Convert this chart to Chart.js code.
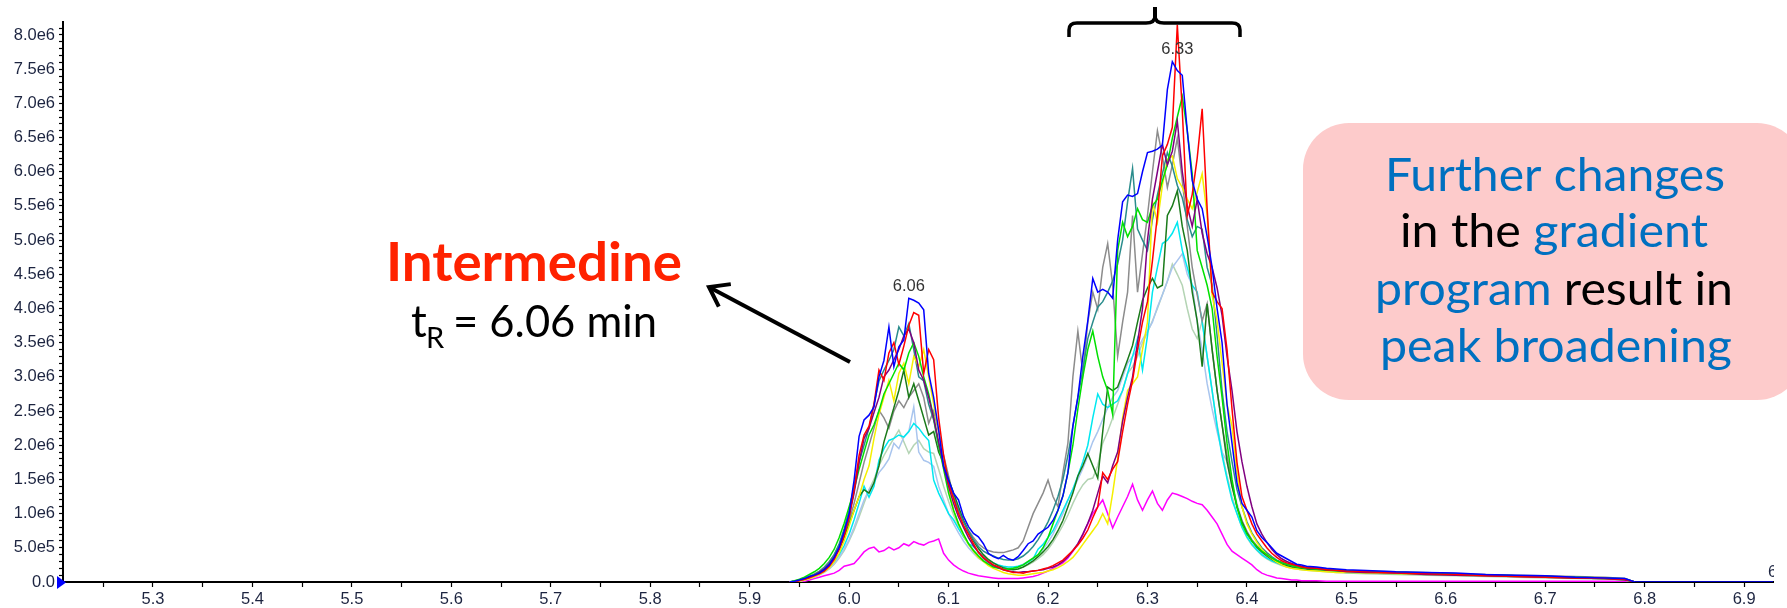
<!DOCTYPE html>
<html>
<head>
<meta charset="utf-8">
<script src="https://cdn.jsdelivr.net/npm/chart.js@4.4.1/dist/chart.umd.min.js"></script>
<style>
  html, body { margin: 0; padding: 0; background: #fff; }
</style>
</head>
<body>
<canvas id="grafico" width="1787" height="608"></canvas>
<script>
// retention time (min)
var times = [
  5.940, 5.945, 5.950, 5.955, 5.960, 5.965, 5.970, 5.975, 5.980, 5.985,
  5.990, 5.995, 6.000, 6.005, 6.010, 6.015, 6.020, 6.025, 6.030, 6.035,
  6.040, 6.045, 6.050, 6.055, 6.060, 6.065, 6.070, 6.075, 6.080, 6.085,
  6.090, 6.095, 6.100, 6.105, 6.110, 6.115, 6.120, 6.125, 6.130, 6.135,
  6.140, 6.145, 6.150, 6.155, 6.160, 6.165, 6.170, 6.175, 6.180, 6.185,
  6.190, 6.195, 6.200, 6.205, 6.210, 6.215, 6.220, 6.225, 6.230, 6.235,
  6.240, 6.245, 6.250, 6.255, 6.260, 6.265, 6.270, 6.275, 6.280, 6.285,
  6.290, 6.295, 6.300, 6.305, 6.310, 6.315, 6.320, 6.325, 6.330, 6.335,
  6.340, 6.345, 6.350, 6.355, 6.360, 6.365, 6.370, 6.375, 6.380, 6.385,
  6.390, 6.395, 6.400, 6.405, 6.410, 6.415, 6.420, 6.425, 6.430, 6.435,
  6.440, 6.445, 6.450, 6.455, 6.460,
  6.470, 6.480, 6.490, 6.500, 6.520, 6.550, 6.580, 6.610, 6.640, 6.670, 6.700, 6.730, 6.760, 6.780, 6.790, 6.930
];

// intensities, in units of 1e5 counts
var runBlue = [
  0, 0.1, 0.3, 0.5, 0.8, 1.0, 1.3, 1.8, 2.5, 3.6,
  5.1, 7.4, 10.0, 14.9, 21.3, 23.7, 24.4, 25.6, 30.0, 32.4,
  37.3, 31.5, 34.4, 35.4, 41.5, 41.2, 40.8, 39.8, 30.5, 27.0,
  22.2, 16.9, 14.9, 13.0, 12.0, 9.6, 8.1, 7.1, 6.6, 5.6,
  4.2, 3.7, 3.4, 3.9, 3.4, 3.2, 3.7, 4.6, 5.6, 6.0,
  7.0, 7.5, 8.0, 9.0, 10.5, 12.6, 16.0, 22.8, 27.0, 33.0,
  38.2, 44.4, 42.4, 42.8, 42.4, 41.5, 50.0, 55.6, 56.6, 56.4,
  56.8, 60.0, 62.8, 63.0, 63.3, 63.9, 72.0, 76.1, 74.8, 74.1,
  66.0, 58.7, 56.0, 54.6, 50.5, 46.0, 40.0, 35.0, 26.0, 20.3,
  14.5, 11.5, 10.5, 9.5, 7.5, 6.5, 5.8, 5.0, 4.2, 3.8,
  3.4, 3.0, 2.6, 2.5, 2.3,
  2.2, 2.0, 1.9, 1.8, 1.7, 1.5, 1.4, 1.3, 1.1, 1.0, 0.9, 0.7, 0.6, 0.5, 0, 0
];
var runRed = [
  0, 0, 0.2, 0.4, 0.6, 0.9, 1.2, 1.6, 2.3, 3.3,
  4.8, 6.8, 9.5, 13.5, 18.5, 21.5, 22.8, 26.0, 31.0, 29.5,
  33.5, 35.0, 31.8, 34.5, 37.5, 39.4, 39.0, 30.5, 34.0, 32.5,
  24.0, 18.5, 14.5, 12.2, 10.0, 8.3, 7.0, 5.6, 4.3, 3.6,
  3.0, 2.5, 2.2, 1.8, 1.6, 1.4, 1.4, 1.3, 1.5, 1.6,
  1.7, 1.9, 2.1, 2.4, 2.8, 3.2, 3.9, 4.6, 5.4, 6.4,
  7.6, 9.4, 11.0, 16.0, 15.0, 16.5, 17.6, 22.0, 26.0, 29.5,
  34.0, 38.0, 41.0, 47.0, 53.6, 62.3, 64.0, 66.5, 81.5, 69.0,
  53.6, 56.7, 62.0, 69.2, 54.6, 42.4, 41.0, 40.0, 34.0, 25.3,
  17.5, 12.5, 10.5, 8.5, 7.0, 6.0, 5.0, 4.2, 3.6, 3.1,
  2.8, 2.6, 2.4, 2.2, 2.1,
  2.0, 1.8, 1.7, 1.6, 1.5, 1.3, 1.2, 1.1, 0.9, 0.8, 0.7, 0.6, 0.5, 0.4, 0, null
];
var runPurple = [
  0, 0, 0.2, 0.4, 0.7, 1.0, 1.4, 1.9, 2.6, 3.6,
  5.0, 7.0, 9.6, 13.0, 17.5, 21.0, 22.5, 24.8, 27.0, 30.0,
  31.0, 32.5, 34.0, 36.0, 37.0, 35.0, 31.0, 29.5, 27.0, 24.0,
  20.5, 17.0, 14.0, 11.5, 9.5, 8.0, 6.5, 5.3, 4.4, 3.5,
  2.9, 2.4, 2.1, 1.8, 1.6, 1.5, 1.4, 1.5, 1.5, 1.6,
  1.7, 1.8, 2.0, 2.2, 2.5, 3.0, 3.7, 4.6, 5.6, 7.0,
  8.6, 10.5, 13.0, 15.5, 14.5, 17.0, 19.0, 23.5, 27.0, 30.0,
  35.0, 40.0, 50.0, 56.0, 60.0, 64.0, 61.0, 63.0, 67.4, 60.0,
  55.0, 52.0, 56.0, 51.0, 48.0, 46.0, 43.0, 39.0, 33.0, 28.0,
  22.0, 17.6, 14.0, 11.0, 8.5, 7.0, 5.8, 4.8, 4.0, 3.4,
  3.0, 2.7, 2.5, 2.3, 2.1,
  2.0, 1.8, 1.7, 1.5, 1.4, 1.3, 1.1, 1.0, 0.9, 0.8, 0.7, 0.6, 0.5, 0.3, 0, null
];
var runGreen = [
  0, 0.2, 0.4, 0.7, 1.1, 1.5, 2.0, 2.7, 3.6, 4.8,
  6.5, 8.6, 11.0, 13.5, 16.5, 19.0, 21.5, 23.0, 25.0, 27.5,
  29.0, 30.5, 32.0, 31.0, 33.5, 35.0, 33.0, 30.0, 27.5, 24.0,
  20.0, 16.5, 13.0, 10.5, 8.5, 7.0, 5.6, 4.6, 3.8, 3.1,
  2.6, 2.2, 2.0, 1.9, 1.9, 2.0, 2.2, 2.5, 3.0, 3.5,
  4.0, 5.0, 6.5, 8.5, 10.5, 12.6, 16.0, 20.0, 25.3, 30.0,
  34.0, 36.7, 33.0, 30.0, 28.0, 24.5, 48.5, 52.6, 50.5, 52.0,
  54.6, 53.0, 52.6, 55.0, 56.0, 58.7, 61.0, 64.9, 68.0, 71.0,
  66.0, 59.7, 48.5, 46.0, 43.4, 40.0, 33.0, 27.0, 20.3, 15.0,
  11.0, 8.5, 7.0, 6.0, 5.2, 4.5, 4.0, 3.5, 3.1, 2.8,
  2.6, 2.4, 2.2, 2.1, 2.0,
  1.9, 1.8, 1.7, 1.6, 1.5, 1.4, 1.3, 1.1, 1.0, 0.9, 0.8, 0.6, 0.5, 0.4, 0, null
];
var runYellow = [
  0, 0, 0.1, 0.3, 0.5, 0.8, 1.1, 1.5, 2.1, 3.0,
  4.2, 6.0, 8.2, 10.5, 12.5, 15.0, 17.0, 21.0, 24.5, 27.0,
  29.5, 26.5, 30.5, 32.0, 29.0, 33.0, 31.5, 34.0, 30.0, 26.0,
  22.0, 17.5, 13.5, 10.5, 8.5, 6.8, 5.5, 4.5, 3.6, 3.0,
  2.4, 2.0, 1.7, 1.4, 1.2, 1.1, 1.0, 1.0, 1.1, 1.2,
  1.3, 1.4, 1.6, 1.8, 2.1, 2.5, 3.0, 3.6, 4.5, 5.5,
  6.5, 7.5, 8.5, 10.0, 8.5, 13.0, 18.0, 24.0, 28.0, 29.0,
  30.0, 34.0, 38.0, 55.6, 52.6, 58.0, 61.8, 62.3, 59.0, 57.7,
  56.0, 54.6, 57.0, 59.7, 53.6, 42.0, 38.2, 32.0, 26.0, 22.8,
  16.0, 11.0, 8.5, 7.0, 5.8, 4.8, 4.0, 3.4, 2.9, 2.5,
  2.2, 2.0, 1.9, 1.8, 1.7,
  1.6, 1.5, 1.4, 1.4, 1.3, 1.2, 1.1, 1.0, 0.9, 0.8, 0.7, 0.6, 0.5, 0.3, 0, null
];
var runTeal = [
  0, 0.1, 0.3, 0.5, 0.8, 1.1, 1.5, 2.1, 2.9, 4.0,
  5.6, 7.8, 10.5, 14.0, 17.5, 20.0, 22.5, 26.0, 29.4, 31.0,
  32.4, 34.0, 37.3, 36.0, 37.8, 34.0, 30.0, 29.4, 26.0, 23.7,
  20.0, 16.9, 14.5, 12.4, 10.5, 8.8, 7.4, 6.2, 5.2, 4.5,
  4.1, 3.8, 3.5, 3.3, 3.2, 3.2, 3.4, 3.8, 4.4, 5.2,
  6.2, 7.4, 8.8, 10.5, 12.5, 15.0, 18.5, 22.8, 27.0, 31.0,
  35.6, 38.0, 40.2, 41.0, 42.4, 44.0, 46.5, 50.0, 55.6, 60.5,
  51.6, 50.0, 48.5, 53.0, 56.6, 59.7, 62.8, 60.8, 58.0, 56.2,
  53.0, 50.5, 52.0, 51.6, 46.0, 43.4, 36.0, 28.0, 22.0, 17.6,
  13.5, 11.0, 8.8, 7.2, 6.0, 5.0, 4.3, 3.7, 3.2, 2.9,
  2.6, 2.4, 2.3, 2.2, 2.1,
  2.0, 1.9, 1.7, 1.6, 1.5, 1.4, 1.3, 1.2, 1.0, 0.9, 0.8, 0.7, 0.6, 0.5, 0, null
];
var runDarkGreen = [
  0, 0.1, 0.2, 0.4, 0.7, 1.0, 1.4, 1.9, 2.6, 3.6,
  4.8, 6.5, 8.5, 10.5, 12.5, 13.5, 13.0, 14.5, 17.0, 20.5,
  23.0, 25.5, 28.0, 31.0, 27.0, 29.0, 26.5, 24.0, 21.5, 22.0,
  19.0, 17.4, 15.0, 13.0, 11.0, 9.0, 7.4, 6.0, 4.9, 4.0,
  3.3, 2.8, 2.4, 2.1, 1.9, 1.8, 1.9, 2.2, 2.6, 3.1,
  3.7, 4.4, 5.2, 6.2, 7.5, 9.0, 11.0, 13.0, 15.5, 17.0,
  18.8, 17.0, 15.2, 22.0, 28.5, 28.0, 28.5, 30.5, 32.5, 34.6,
  38.0, 41.2, 43.0, 44.4, 43.0, 43.4, 53.6, 55.0, 57.2, 52.0,
  48.5, 42.4, 38.2, 31.5, 40.7, 34.0, 28.0, 23.0, 17.6, 14.0,
  11.0, 8.8, 7.2, 6.0, 5.1, 4.4, 3.8, 3.3, 2.9, 2.6,
  2.4, 2.2, 2.1, 2.0, 1.9,
  1.8, 1.7, 1.6, 1.5, 1.4, 1.3, 1.2, 1.1, 1.0, 0.9, 0.8, 0.7, 0.6, 0.4, 0, null
];
var runGray = [
  0, 0.1, 0.3, 0.5, 0.8, 1.2, 1.6, 2.2, 3.0, 4.0,
  5.3, 7.0, 9.0, 11.5, 14.5, 17.5, 20.0, 22.5, 25.1, 24.0,
  22.5, 25.0, 26.5, 25.5, 27.0, 28.0, 29.0, 27.0, 23.2, 25.0,
  22.0, 18.5, 15.5, 12.5, 10.5, 9.0, 7.6, 6.5, 5.6, 5.0,
  4.6, 4.4, 4.3, 4.3, 4.5, 4.7, 5.0, 6.0, 8.0, 10.0,
  11.5, 13.0, 14.9, 12.5, 11.0, 16.0, 20.3, 30.0, 36.7, 30.5,
  38.0, 42.4, 39.9, 46.0, 49.5, 43.4, 33.0, 38.0, 42.4, 53.6,
  42.4, 48.0, 53.6, 60.0, 66.0, 62.3, 57.7, 61.0, 64.9, 58.7,
  52.0, 46.0, 42.0, 38.2, 40.7, 34.0, 28.0, 23.0, 18.6, 14.5,
  11.0, 9.0, 7.4, 6.2, 5.3, 4.6, 4.0, 3.5, 3.1, 2.8,
  2.6, 2.4, 2.3, 2.2, 2.1,
  2.0, 1.9, 1.8, 1.7, 1.6, 1.5, 1.4, 1.2, 1.1, 1.0, 0.9, 0.8, 0.7, 0.5, 0, null
];
var runCyan = [
  0, 0, 0.2, 0.4, 0.6, 0.9, 1.2, 1.6, 2.2, 3.0,
  4.0, 5.3, 7.0, 9.1, 11.5, 14.0, 12.4, 14.0, 17.8, 19.5,
  20.7, 21.0, 21.5, 21.2, 22.0, 23.2, 22.5, 21.5, 20.7, 14.9,
  13.0, 11.5, 10.0, 9.1, 7.8, 6.6, 5.6, 5.2, 4.4, 3.8,
  3.2, 2.8, 2.5, 2.3, 2.2, 2.2, 2.3, 2.5, 2.9, 3.4,
  4.8, 5.5, 6.5, 7.5, 9.0, 10.5, 12.0, 13.6, 15.5, 17.6,
  20.0, 24.0, 27.5, 26.0, 25.5, 26.0, 26.5, 28.0, 30.5, 33.0,
  35.6, 31.0, 36.0, 42.4, 46.0, 49.5, 50.0, 51.0, 52.6, 48.5,
  46.0, 43.4, 42.4, 38.0, 33.0, 28.0, 22.8, 18.5, 15.1, 12.0,
  10.0, 8.0, 6.6, 5.5, 4.7, 4.0, 3.5, 3.1, 2.8, 2.5,
  2.3, 2.2, 2.0, 1.9, 1.8,
  1.7, 1.6, 1.5, 1.4, 1.3, 1.2, 1.1, 1.0, 0.9, 0.8, 0.7, 0.6, 0.5, 0.3, 0, null
];
var runLightBlue = [
  0, 0, 0.1, 0.3, 0.5, 0.8, 1.1, 1.5, 2.0, 2.7,
  3.6, 4.8, 6.2, 8.0, 10.0, 12.0, 13.5, 14.5, 16.0, 16.9,
  18.0, 20.3, 19.5, 21.2, 22.0, 25.6, 19.0, 17.8, 17.5, 16.9,
  14.0, 12.0, 10.0, 8.5, 7.2, 6.0, 5.0, 4.2, 3.5, 3.0,
  2.6, 2.3, 2.1, 2.0, 2.0, 2.1, 2.3, 2.6, 3.0, 3.5,
  4.0, 4.8, 5.8, 7.0, 8.5, 10.0, 12.0, 13.5, 15.0, 16.6,
  18.5, 20.5, 22.0, 23.8, 25.5, 27.0, 28.0, 30.0, 32.0, 33.0,
  34.0, 35.5, 36.7, 38.0, 40.2, 42.0, 44.0, 46.0, 47.0, 48.0,
  45.0, 43.4, 38.0, 34.0, 29.0, 25.3, 22.0, 19.0, 17.6, 14.0,
  11.5, 9.0, 7.3, 6.0, 5.0, 4.3, 3.7, 3.2, 2.8, 2.5,
  2.3, 2.1, 2.0, 1.9, 1.8,
  1.7, 1.6, 1.5, 1.4, 1.3, 1.2, 1.1, 1.0, 0.9, 0.8, 0.7, 0.6, 0.5, 0.3, 0, null
];
var runPaleGreen = [
  0, 0, 0.1, 0.3, 0.5, 0.7, 1.0, 1.4, 1.9, 2.6,
  3.5, 4.6, 6.0, 7.6, 9.5, 11.5, 13.5, 15.0, 17.0, 18.5,
  19.8, 21.0, 22.2, 20.5, 18.8, 20.0, 20.7, 19.5, 19.0, 18.8,
  16.5, 14.0, 11.8, 9.8, 8.2, 6.8, 5.6, 4.7, 3.9, 3.3,
  2.8, 2.5, 2.2, 2.0, 1.9, 1.9, 2.0, 2.2, 2.5, 2.9,
  3.4, 4.0, 4.8, 5.8, 7.0, 8.3, 9.8, 11.5, 13.0, 14.2,
  15.0, 15.2, 17.0, 20.3, 22.0, 24.0, 26.0, 28.0, 30.5, 31.5,
  33.0, 35.0, 36.5, 38.2, 40.0, 42.0, 44.0, 46.5, 45.0, 43.4,
  40.0, 37.0, 35.6, 38.2, 33.0, 28.0, 23.0, 19.0, 15.5, 12.5,
  10.0, 8.0, 6.5, 5.4, 4.6, 3.9, 3.4, 3.0, 2.7, 2.4,
  2.2, 2.0, 1.9, 1.8, 1.7,
  1.6, 1.5, 1.4, 1.3, 1.2, 1.1, 1.0, 0.9, 0.8, 0.7, 0.6, 0.5, 0.4, 0.3, 0, null
];
var runMagenta = [
  0, 0, 0, 0.1, 0.3, 0.5, 0.7, 0.9, 1.1, 1.3,
  1.7, 2.3, 2.5, 2.7, 3.5, 4.4, 4.9, 5.1, 4.4, 4.6,
  5.1, 4.7, 5.0, 5.6, 5.3, 5.9, 5.6, 5.4, 5.8, 6.0,
  6.3, 4.2, 3.2, 2.5, 2.0, 1.6, 1.3, 1.1, 0.9, 0.8,
  0.7, 0.6, 0.5, 0.5, 0.5, 0.5, 0.5, 0.6, 0.7, 0.8,
  1.0, 1.3, 1.6, 2.0, 2.4, 2.8, 3.5, 4.5, 5.5, 6.9,
  8.5, 10.0, 11.0, 12.0, 10.0, 7.9, 9.5, 11.0, 12.5, 14.3,
  12.0, 10.5, 12.0, 13.3, 11.5, 10.5, 12.0, 13.0, 12.8, 12.5,
  12.2, 11.8, 11.5, 11.3, 10.5, 9.5, 8.5, 7.0, 5.5, 4.5,
  4.0, 3.5, 3.0, 2.5, 1.8, 1.3, 1.0, 0.8, 0.6, 0.5,
  0.4, 0.3, 0.3, 0.2, 0.2,
  0.2, 0.1, 0.1, 0.1, 0.1, 0.1, 0.1, 0.1, 0.1, 0.1, 0.1, 0.1, 0.1, 0.1, 0, null
];

// first run is drawn on top
var runs = [runBlue, runRed, runPurple, runGreen, runYellow, runTeal, runDarkGreen, runGray, runCyan, runLightBlue, runPaleGreen, runMagenta];
var traceColors = ['#0000ff', '#ff0000', '#800080', '#00e000', '#f5f000', '#2a8c8c', '#1a7a1a', '#8c8c8c', '#00e8f0', '#a9c5ee', '#b4d4b4', '#ff00ff'];

var xTickLabels = ['5.3', '5.4', '5.5', '5.6', '5.7', '5.8', '5.9', '6.0', '6.1', '6.2', '6.3', '6.4', '6.5', '6.6', '6.7', '6.8', '6.9'];
var yTickLabels = ['0.0', '5.0e5', '1.0e6', '1.5e6', '2.0e6', '2.5e6', '3.0e6', '3.5e6', '4.0e6', '4.5e6', '5.0e6', '5.5e6', '6.0e6', '6.5e6', '7.0e6', '7.5e6', '8.0e6'];
var peakTimes = [6.06, 6.33];
var peakLabels = ['6.06', '6.33'];

var tickFont = '"Liberation Sans", Arial, sans-serif';
var tickColor = '#1c2440';
var boxBlue = '#0070c0';

function fitText(c, parts, left, base, width, font) {
    c.font = font;
    var w = c.measureText(parts.map(function (p) { return p[0]; }).join('')).width;
    c.save();
    c.translate(left, base);
    c.scale(width / w, 1);
    var x = 0;
    parts.forEach(function (p) {
        c.fillStyle = p[1];
        c.fillText(p[0], x, 0);
        x += c.measureText(p[0]).width;
    });
    c.restore();
}

var overlay = {
    id: 'overlay',
    afterDraw: function (chart) {
        var c = chart.ctx;
        var xs = chart.scales.x, ys = chart.scales.y;
        c.save();

        // blue marker at the origin
        c.fillStyle = '#0000ff';
        c.beginPath();
        c.moveTo(57, 576); c.lineTo(57, 589); c.lineTo(66, 582.5);
        c.closePath();
        c.fill();

        // clipped label at the right edge
        c.save();
        c.beginPath(); c.rect(0, 0, 1774, 608); c.clip();
        c.font = '16.5px ' + tickFont;
        c.fillStyle = tickColor;
        c.textAlign = 'left';
        c.textBaseline = 'alphabetic';
        c.fillText('6.93', 1768, 577);
        c.restore();

        // peak apex labels
        c.font = '16.5px ' + tickFont;
        c.fillStyle = '#333';
        c.textAlign = 'center';
        c.textBaseline = 'middle';
        peakTimes.forEach(function (t, k) {
            var top = 0;
            times.forEach(function (tt, i) {
                if (Math.abs(tt - t) <= 0.02 && runBlue[i] > top) top = runBlue[i];
            });
            c.fillText(peakLabels[k], xs.getPixelForValue(t), ys.getPixelForValue(top) - 12);
        });

        // bracket over the broadened peak
        c.strokeStyle = '#000';
        c.lineWidth = 3.5;
        c.lineJoin = 'round';
        c.beginPath();
        c.moveTo(1069, 37); c.lineTo(1069, 30);
        c.quadraticCurveTo(1069, 23, 1077, 23);
        c.lineTo(1146, 23);
        c.quadraticCurveTo(1155, 23, 1155, 16);
        c.quadraticCurveTo(1155, 23, 1164, 23);
        c.lineTo(1232, 23);
        c.quadraticCurveTo(1240, 23, 1240, 30);
        c.lineTo(1240, 37);
        c.stroke();
        c.lineWidth = 4;
        c.beginPath(); c.moveTo(1155, 20); c.lineTo(1155, 7); c.stroke();

        // arrow
        var tail = [850, 362], tip = [709, 287];
        var ang = Math.atan2(tail[1] - tip[1], tail[0] - tip[0]);
        c.lineWidth = 4;
        c.lineCap = 'butt';
        c.lineJoin = 'miter';
        c.beginPath(); c.moveTo(tail[0], tail[1]); c.lineTo(tip[0] + 2 * Math.cos(ang), tip[1] + 2 * Math.sin(ang)); c.stroke();
        c.beginPath();
        c.moveTo(tip[0] + 22 * Math.cos(ang - 0.62), tip[1] + 22 * Math.sin(ang - 0.62));
        c.lineTo(tip[0], tip[1]);
        c.lineTo(tip[0] + 22 * Math.cos(ang + 0.62), tip[1] + 22 * Math.sin(ang + 0.62));
        c.stroke();

        // compound name and retention time
        c.textAlign = 'left';
        c.textBaseline = 'alphabetic';
        fitText(c, [['Intermedine', '#ff2200']], 386, 281, 296, 'bold 53px Lato');
        c.fillStyle = '#000';
        c.font = '44px Lato';
        c.fillText('t', 411, 337);
        c.font = '29px Lato';
        c.fillText('R', 426, 348);
        fitText(c, [['= 6.06 min', '#000']], 453, 337, 204, '44px Lato');

        // note box
        c.fillStyle = '#fdcbcb';
        c.beginPath();
        c.roundRect(1303, 123, 500, 277, 46);
        c.fill();
        var f = '47px Lato';
        fitText(c, [['Further changes', boxBlue]], 1385, 191, 340, f);
        fitText(c, [['in the ', '#000'], ['gradient', boxBlue]], 1400, 247, 308, f);
        fitText(c, [['program', boxBlue], [' result in', '#000']], 1375, 305, 358, f);
        fitText(c, [['peak broadening', boxBlue]], 1380, 362, 352, f);

        c.restore();
    }
};

var ctx = document.getElementById('grafico');
var myChart = new Chart(ctx, {
    type: 'line',
    data: {
        datasets: runs.map(function (vals, k) {
            return {
                data: times.map(function (t, i) { return { x: t, y: vals[i] }; }),
                borderColor: traceColors[k],
                borderWidth: 1.5,
                pointRadius: 0,
                fill: false,
                tension: 0
            };
        })
    },
    options: {
        responsive: false,
        animation: false,
        devicePixelRatio: 1,
        layout: { padding: { top: 22, right: 14, left: 0, bottom: 0 } },
        plugins: {
            legend: { display: false },
            tooltip: { enabled: false }
        },
        scales: {
            x: {
                type: 'linear',
                min: 5.2095,
                max: 6.929,
                afterFit: function (s) { s.height = 26; },
                border: { display: true, color: '#000', width: 2 },
                grid: { drawOnChartArea: false, drawTicks: true, tickLength: 5, tickColor: '#000', tickWidth: 1.2 },
                ticks: {
                    stepSize: 0.05,
                    autoSkip: false,
                    includeBounds: false,
                    maxTicksLimit: 1000,
                    maxRotation: 0,
                    padding: 3,
                    color: tickColor,
                    font: { family: tickFont, size: 16.5 },
                    callback: function (v) {
                        var n = Math.round(v * 100);
                        return n % 10 === 0 ? (xTickLabels[n / 10 - 53] || '') : '';
                    }
                }
            },
            y: {
                type: 'linear',
                min: 0,
                max: 81.9,
                afterFit: function (s) { s.width = 63; },
                border: { display: true, color: '#000', width: 2 },
                grid: { drawOnChartArea: false, drawTicks: true, tickLength: 4, tickColor: '#000', tickWidth: 1.2 },
                ticks: {
                    stepSize: 1,
                    autoSkip: false,
                    includeBounds: false,
                    maxTicksLimit: 1000,
                    padding: 4,
                    color: tickColor,
                    font: { family: tickFont, size: 16.5 },
                    callback: function (v) {
                        var n = Math.round(v);
                        return n % 5 === 0 ? (yTickLabels[n / 5] || '') : '';
                    }
                }
            }
        }
    },
    plugins: [overlay]
});
</script>
</body>
</html>
